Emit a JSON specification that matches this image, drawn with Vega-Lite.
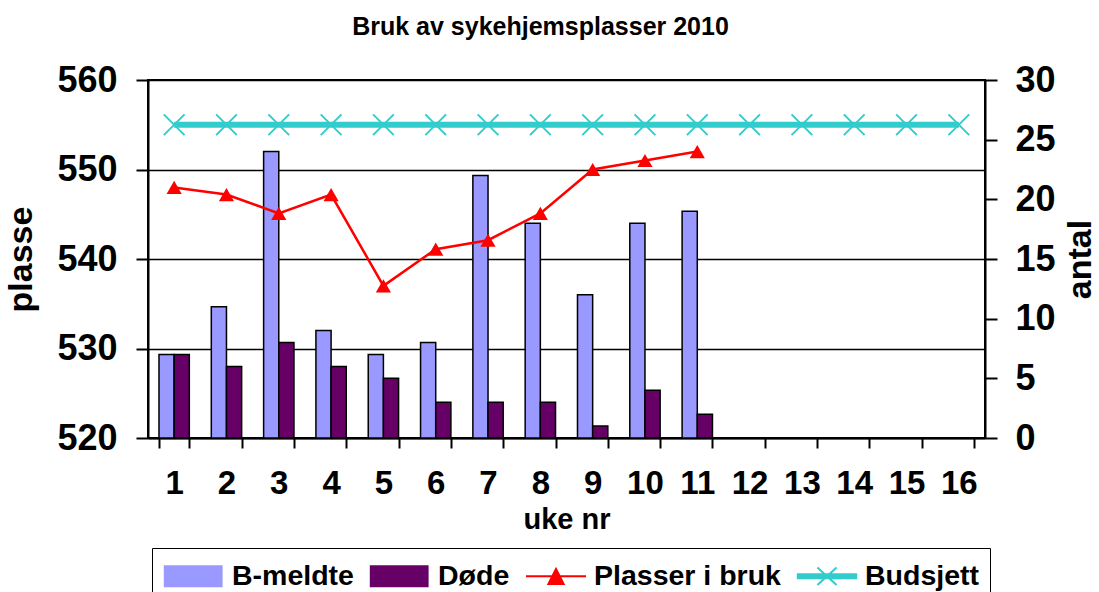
{
  "$schema": "https://vega.github.io/schema/vega-lite/v6.json",
  "width": 837,
  "height": 358,
  "autosize": {"type": "none"},
  "padding": {"left": 148, "top": 80, "right": 114, "bottom": 154},
  "background": "white",
  "title": {"text": "Bruk av sykehjemsplasser 2010", "fontSize": 25, "font": "Liberation Sans", "fontWeight": "bold", "color": "black", "anchor": "middle", "dx": -26, "offset": 22},
  "config": {
    "font": "Liberation Sans",
    "view": {"stroke": "black", "strokeWidth": 2},
    "axis": {"labelFont": "Liberation Sans", "labelFontWeight": "bold", "labelColor": "black", "titleFont": "Liberation Sans", "titleFontWeight": "bold", "titleColor": "black", "domainColor": "black", "domainWidth": 2, "tickColor": "black", "tickWidth": 2, "gridColor": "black", "gridWidth": 1.5, "gridOpacity": 1},
    "legend": {"symbolStrokeWidth": 2, "symbolOpacity": 1}
  },
  "data": {"values": [
    {"uke": 1, "serie": "B-meldte", "verdi": 7}, {"uke": 2, "serie": "B-meldte", "verdi": 11}, {"uke": 3, "serie": "B-meldte", "verdi": 24}, {"uke": 4, "serie": "B-meldte", "verdi": 9}, {"uke": 5, "serie": "B-meldte", "verdi": 7}, {"uke": 6, "serie": "B-meldte", "verdi": 8}, {"uke": 7, "serie": "B-meldte", "verdi": 22}, {"uke": 8, "serie": "B-meldte", "verdi": 18}, {"uke": 9, "serie": "B-meldte", "verdi": 12}, {"uke": 10, "serie": "B-meldte", "verdi": 18}, {"uke": 11, "serie": "B-meldte", "verdi": 19},
    {"uke": 1, "serie": "Døde", "verdi": 7}, {"uke": 2, "serie": "Døde", "verdi": 6}, {"uke": 3, "serie": "Døde", "verdi": 8}, {"uke": 4, "serie": "Døde", "verdi": 6}, {"uke": 5, "serie": "Døde", "verdi": 5}, {"uke": 6, "serie": "Døde", "verdi": 3}, {"uke": 7, "serie": "Døde", "verdi": 3}, {"uke": 8, "serie": "Døde", "verdi": 3}, {"uke": 9, "serie": "Døde", "verdi": 1}, {"uke": 10, "serie": "Døde", "verdi": 4}, {"uke": 11, "serie": "Døde", "verdi": 2},
    {"uke": 1, "serie": "Plasser i bruk", "verdi": 548}, {"uke": 2, "serie": "Plasser i bruk", "verdi": 547.2}, {"uke": 3, "serie": "Plasser i bruk", "verdi": 545.1}, {"uke": 4, "serie": "Plasser i bruk", "verdi": 547.2}, {"uke": 5, "serie": "Plasser i bruk", "verdi": 537}, {"uke": 6, "serie": "Plasser i bruk", "verdi": 541.1}, {"uke": 7, "serie": "Plasser i bruk", "verdi": 542.1}, {"uke": 8, "serie": "Plasser i bruk", "verdi": 545.1}, {"uke": 9, "serie": "Plasser i bruk", "verdi": 550}, {"uke": 10, "serie": "Plasser i bruk", "verdi": 551}, {"uke": 11, "serie": "Plasser i bruk", "verdi": 552},
    {"uke": 1, "serie": "Budsjett", "verdi": 555}, {"uke": 2, "serie": "Budsjett", "verdi": 555}, {"uke": 3, "serie": "Budsjett", "verdi": 555}, {"uke": 4, "serie": "Budsjett", "verdi": 555}, {"uke": 5, "serie": "Budsjett", "verdi": 555}, {"uke": 6, "serie": "Budsjett", "verdi": 555}, {"uke": 7, "serie": "Budsjett", "verdi": 555}, {"uke": 8, "serie": "Budsjett", "verdi": 555}, {"uke": 9, "serie": "Budsjett", "verdi": 555}, {"uke": 10, "serie": "Budsjett", "verdi": 555}, {"uke": 11, "serie": "Budsjett", "verdi": 555}, {"uke": 12, "serie": "Budsjett", "verdi": 555}, {"uke": 13, "serie": "Budsjett", "verdi": 555}, {"uke": 14, "serie": "Budsjett", "verdi": 555}, {"uke": 15, "serie": "Budsjett", "verdi": 555}, {"uke": 16, "serie": "Budsjett", "verdi": 555}
  ]},
  "layer": [
    {
      "transform": [{"filter": "datum.serie === 'B-meldte' || datum.serie === 'Døde'"}],
      "mark": {"type": "bar", "stroke": "black", "strokeWidth": 1.5},
      "encoding": {
        "x": {"field": "uke", "type": "ordinal", "scale": {"domain": [1,2,3,4,5,6,7,8,9,10,11,12,13,14,15,16], "paddingInner": 0.42, "paddingOuter": 0.21},
              "axis": {"title": "uke nr", "titleFontSize": 29, "titlePadding": 5, "labelFontSize": 33, "labelAngle": 0, "labelPadding": 19, "tickBand": "extent", "tickSize": 10, "grid": false}},
        "xOffset": {"field": "serie", "type": "nominal", "sort": ["B-meldte", "Døde"]},
        "y": {"field": "verdi", "type": "quantitative", "scale": {"domain": [0, 30], "nice": false},
              "axis": {"orient": "right", "title": "antal", "titleAngle": 270, "titleBaseline": "top", "titleFontSize": 34, "titlePadding": 8, "labelFontSize": 36, "labelPadding": 18, "tickSize": 12, "values": [0,5,10,15,20,25,30], "grid": false}},
        "color": {"field": "serie", "type": "nominal",
                  "scale": {"domain": ["B-meldte", "Døde", "Plasser i bruk", "Budsjett"], "range": ["#9999ff", "#660066", "#ff0000", "#33cccc"]},
                  "legend": {"title": null, "orient": "none", "legendX": 4, "legendY": 468, "direction": "horizontal", "columns": 4,
                             "labelFontSize": 28.5, "labelFontWeight": "bold", "labelColor": "black", "labelOffset": 35, "labelLimit": 400, "columnPadding": 12,
                             "symbolSize": 1024, "strokeColor": "black", "padding": 11}}
      }
    },
    {
      "encoding": {
        "x": {"field": "uke", "type": "ordinal"},
        "y": {"field": "verdi", "type": "quantitative", "scale": {"domain": [520, 560], "nice": false},
              "axis": {"orient": "left", "title": "plasse", "titleFontSize": 34, "titlePadding": 18, "labelFontSize": 36, "labelPadding": 19, "tickSize": 12, "values": [520, 530, 540, 550, 560], "grid": true}},
        "color": {"field": "serie", "type": "nominal"}
      },
      "layer": [
        {"transform": [{"filter": "datum.serie === 'Budsjett'"}], "mark": {"type": "line", "strokeWidth": 6}},
        {"transform": [{"filter": "datum.serie === 'Budsjett'"}], "mark": {"type": "point", "shape": "M-1,-1L1,1M-1,1L1,-1", "filled": false, "size": 430, "strokeWidth": 2, "opacity": 1}},
        {"transform": [{"filter": "datum.serie === 'Plasser i bruk'"}], "mark": {"type": "line", "strokeWidth": 2.5}},
        {"transform": [{"filter": "datum.serie === 'Plasser i bruk'"}], "mark": {"type": "point", "shape": "triangle-up", "filled": true, "size": 230, "opacity": 1}},
        {"transform": [{"filter": "datum.serie === 'Budsjett'"}], "mark": {"type": "point", "filled": true, "opacity": 0, "size": 1},
         "encoding": {"shape": {"field": "serie", "type": "nominal",
           "scale": {"domain": ["B-meldte", "Døde", "Plasser i bruk", "Budsjett"],
                     "range": ["M-0.95,-0.62H2.6V0.62H-0.95Z", "M-0.95,-0.62H2.6V0.62H-0.95Z", "M-1,0H2.75M0.875,-0.45L1.35,0.48L0.4,0.48Z", "M-0.95,-0.13H2.7V0.13H-0.95ZM0.275,-0.55L1.475,0.55M0.275,0.55L1.475,-0.55"]},
           "legend": {"title": null, "orient": "none", "legendX": 4, "legendY": 468, "direction": "horizontal", "columns": 4,
                      "labelFontSize": 28.5, "labelFontWeight": "bold", "labelColor": "black", "labelOffset": 35, "labelLimit": 400, "columnPadding": 12,
                      "symbolSize": 1024, "strokeColor": "black", "padding": 11}}}}
      ]
    }
  ],
  "resolve": {"scale": {"y": "independent"}}
}
